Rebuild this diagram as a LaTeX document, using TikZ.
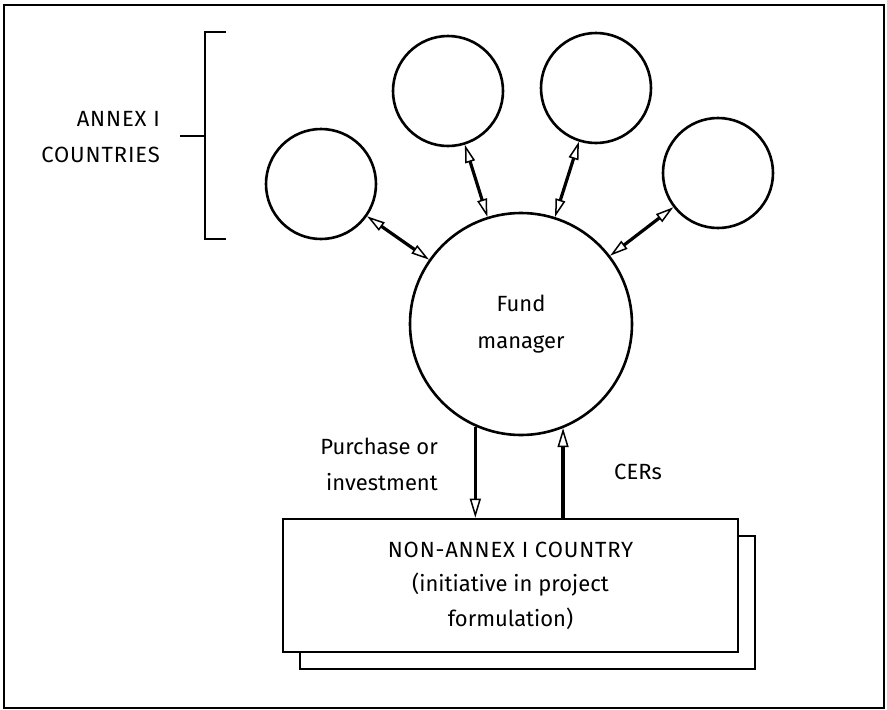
\documentclass[tikz,border=0pt]{standalone}
\usepackage{fontspec}
\setmainfont{Fira Sans}
\usetikzlibrary{arrows.meta}
\begin{document}
\begin{tikzpicture}[x=1pt,y=-1pt,
  country/.style={circle,draw,line width=2.6pt,inner sep=0pt,minimum size=110pt},
  manager/.style={circle,draw,line width=2.6pt,inner sep=0pt,minimum size=222pt,align=center,
    font=\fontsize{22}{37}\selectfont},
  lbl/.style={font=\fontsize{22}{36}\selectfont,inner sep=0pt},
  twoway/.style={line width=3.2pt,
    {Triangle[open,length=18pt,width=10pt,line width=1.5pt]}-{Triangle[open,length=18pt,width=10pt,line width=1.5pt]}},
  oneway/.style={line width=3.4pt,-{Triangle[open,length=19pt,width=11pt,line width=1.5pt]}}
]
\useasboundingbox (0,0) rectangle (887,710);
\draw[line width=2.2pt] (4,5) rectangle (884,708);

% bracket
\draw[line width=2.6pt] (226,32) -- (205,32) -- (205,239) -- (226,239);
\draw[line width=2.6pt] (180,136) -- (205,136);
\node[lbl,align=right,anchor=east] (annex) at (160,137.5) {\addfontfeature{LetterSpace=4}ANNEX I\\\addfontfeature{LetterSpace=4}COUNTRIES};

% circles
\node[country] (c1) at (321,184) {};
\node[country] (c2) at (448,91) {};
\node[country] (c3) at (596,88) {};
\node[country] (c4) at (718,173) {};
\node[manager] (fm) at (521,324) {Fund\\manager};

\draw[twoway] (c1) -- (fm);
\draw[twoway] (c2) -- (fm);
\draw[twoway] (c3) -- (fm);
\draw[twoway] (c4) -- (fm);

% box
\draw[line width=2.6pt,fill=white] (300,536) rectangle (755,669);
\node[draw,fill=white,line width=2.6pt,minimum width=455pt,minimum height=133pt,inner sep=0pt,
  align=center,font=\fontsize{22}{34.5}\selectfont] (box) at (510.5,585.5)
  {\addfontfeature{LetterSpace=4}NON-ANNEX I COUNTRY\\(initiative in project\\formulation)};

\draw[oneway] (fm.246.6) -- (fm.246.6 |- box.north);
\draw[oneway] (fm.292.8 |- box.north) -- (fm.292.8);

\node[lbl,align=right,anchor=east] (purchase) at (438,464.6) {Purchase or\\investment};
\node[lbl,anchor=west] (cers) at (614,472) {CERs};
\end{tikzpicture}
\end{document}
